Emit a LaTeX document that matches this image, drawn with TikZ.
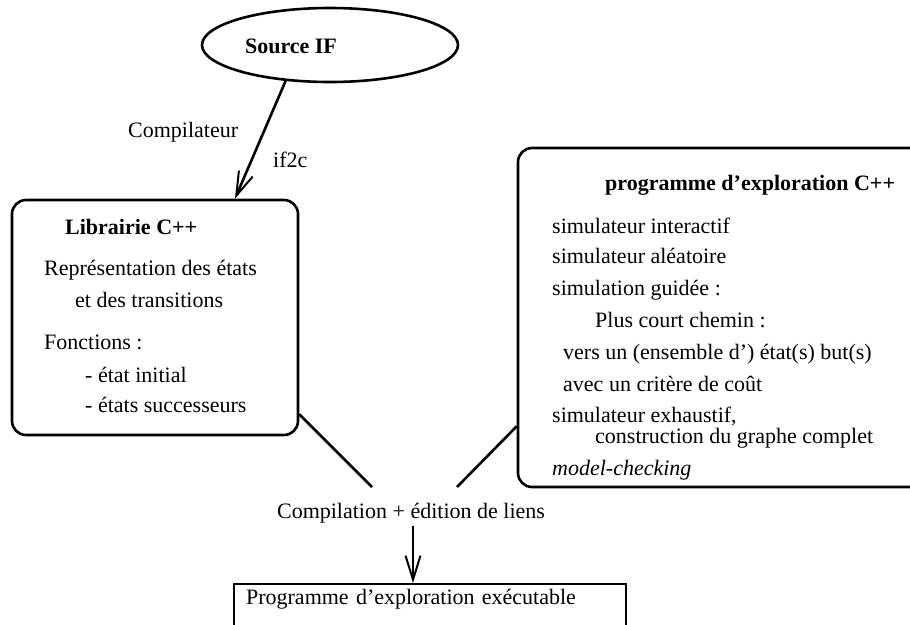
\documentclass[tikz,border=0pt]{standalone}
\usepackage{fontspec}
\setmainfont{Liberation Serif}
\usetikzlibrary{arrows.meta,positioning,shapes.geometric}

\begin{document}
\begin{tikzpicture}[
    x=1pt, y=-1pt,
    font=\fontsize{22}{26}\selectfont,
    box/.style={draw, line width=2.6pt, rounded corners=14pt},
    txt/.style={anchor=base west, inner sep=0pt},
    ttl/.style={txt, font=\fontsize{22}{26}\selectfont\bfseries},
    arr/.style={-{Straight Barb[length=24pt, width=15pt, line width=2pt]}, line width=2.6pt},
    lnk/.style={line width=2.6pt}
  ]
    \useasboundingbox (0,0) rectangle (910,624);

    % source
    \node[draw, ellipse, line width=2.6pt, minimum width=256pt, minimum height=74pt] (src) at (330,45) {};
    \node[ttl, anchor=base] (srctxt) at (291,53) {Source IF};

    % library box
    \node[box, minimum width=286pt, minimum height=235pt] (lib) at (155,317.5) {};
    \node[ttl] (libttl) at (65,234) {Librairie C++};
    \node[txt] (l1) at (44,275) {Représentation des états};
    \node[txt] (l2) at (75,307) {et des transitions};
    \node[txt] (l3) at (44,349) {Fonctions :};
    \node[txt] (l4) at (85,382) {- état initial};
    \node[txt] (l5) at (85,412) {- états successeurs};

    \draw[arr] (src.219) -- ([xshift=80pt]lib.north);
    \node[txt] (comp) at (128,137) {Compilateur};
    \node[txt] (if2c) at (273,167) {if2c};

    % exploration box
    \node[box, minimum width=407pt, minimum height=339pt] (expl) at (721.5,317.5) {};
    \node[ttl] (explttl) at (605,190) {programme d’exploration C++};
    \foreach \y/\x/\t [count=\i] in {
        233/552/{simulateur interactif},
        263/552/{simulateur aléatoire},
        295/552/{simulation guidée :},
        327/595/{Plus court chemin :},
        359/563/{vers un (ensemble d’) état(s) but(s)},
        391/563/{avec un critère de coût},
        422/552/{simulateur exhaustif,},
        443/595/{construction du graphe complet},
        475/552/{\itshape model-checking}} {
      \node[txt] (e\i) at (\x,\y) {\t};
    }

    % link step
    \node[anchor=base] (cmp) at (411,518) {Compilation + édition de liens};
    \coordinate (jl) at (372,487);
    \coordinate (jr) at (457,487);
    \draw[lnk] ([yshift=22pt]lib.south east) -- (jl);
    \draw[lnk] ([yshift=62pt]expl.south west) -- (jr);

    \node[draw, line width=2.2pt, anchor=north west, inner xsep=12pt, inner ysep=5pt,
      text height=15pt, text depth=30pt, text width=368pt, align=left] (prog) at (233,583)
      {Programme d’exploration exécutable};
    \draw[arr, line width=2pt] (cmp.south -| 413,0) -- (prog.north -| 413,0);
\end{tikzpicture}
\end{document}
